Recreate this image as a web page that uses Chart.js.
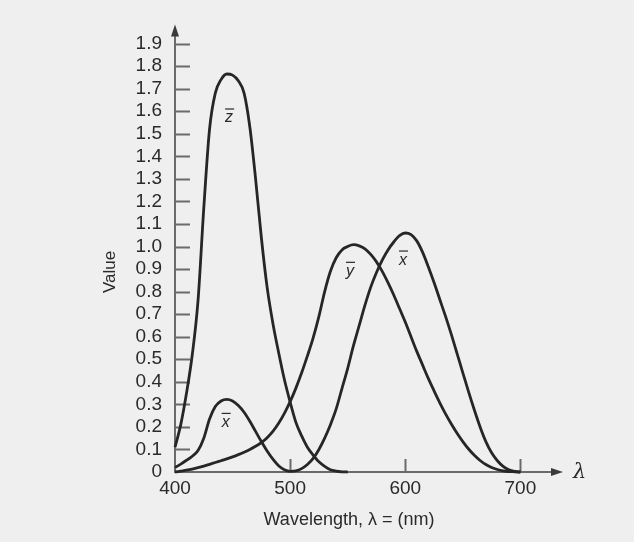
<!DOCTYPE html>
<html>
<head>
<meta charset="utf-8">
<script src="https://cdn.jsdelivr.net/npm/chart.js@4/dist/chart.umd.min.js"></script>
<style>
  html, body { margin: 0; padding: 0; background: #efefef; }
  canvas { display: block; }
</style>
</head>
<body>
<canvas id="c" width="634" height="542"></canvas>
<script>
// Wavelengths (nm)
const wavelengths = [400,405,410,415,420,425,430,435,440,445,450,455,460,465,470,475,480,485,490,495,
  500,505,510,515,520,525,530,535,540,545,550,555,560,565,570,575,580,585,590,595,
  600,605,610,615,620,625,630,635,640,645,650,655,660,665,670,675,680,685,690,695,700];

// x-bar colour matching function
const xBar = [0.02,0.035,0.052,0.07,0.095,0.15,0.235,0.29,0.315,0.322,0.315,0.295,0.265,0.225,0.18,0.135,0.093,0.057,0.028,0.01,
  0.003,0.005,0.015,0.033,0.06,0.10,0.15,0.21,0.28,0.37,0.46,0.56,0.65,0.74,0.82,0.885,0.94,0.985,1.02,1.048,
  1.06,1.053,1.025,0.975,0.91,0.84,0.765,0.69,0.61,0.525,0.44,0.355,0.275,0.20,0.135,0.085,0.05,0.025,0.01,0.003,0];

// y-bar colour matching function
const yBar = [0,0.004,0.008,0.013,0.019,0.026,0.034,0.042,0.05,0.058,0.067,0.077,0.088,0.10,0.114,0.13,0.152,0.18,0.216,0.26,
  0.312,0.372,0.44,0.515,0.595,0.69,0.80,0.89,0.95,0.985,1.0,1.008,1.003,0.99,0.965,0.932,0.89,0.84,0.785,0.725,
  0.665,0.60,0.535,0.475,0.415,0.36,0.307,0.258,0.213,0.172,0.135,0.102,0.074,0.051,0.033,0.02,0.011,0.005,0.002,0.001,0];

// z-bar colour matching function (drawn up to 550 nm)
const zBar = [0.11,0.21,0.35,0.52,0.76,1.17,1.52,1.68,1.74,1.765,1.76,1.735,1.68,1.53,1.30,1.04,0.82,0.66,0.53,0.41,
  0.31,0.22,0.16,0.11,0.075,0.045,0.025,0.01,0.004,0.001,0,null,null,null,null,null,null,null,null,null,
  null,null,null,null,null,null,null,null,null,null,null,null,null,null,null,null,null,null,null,null,null];

// Axis ticks
const xTickValues = [400,500,600,700];
const yTickValues = [0,0.1,0.2,0.3,0.4,0.5,0.6,0.7,0.8,0.9,1.0,1.1,1.2,1.3,1.4,1.5,1.6,1.7,1.8,1.9];

// Curve label anchors (wavelength, value)
const curveLabels = [
  { text: 'z', x: 447, y: 1.55 },
  { text: 'x', x: 444, y: 0.20 },
  { text: 'y', x: 552, y: 0.87 },
  { text: 'x', x: 598, y: 0.92 }
];

const LINE = '#262626';
const AXIS = '#6a6a6a';
const TEXT = '#2a2a2a';
const FONT = '"Liberation Sans", Arial, sans-serif';

function series(arr) {
  return wavelengths.map((w, i) => ({ x: w, y: arr[i] }));
}

const decor = {
  id: 'decor',
  beforeDraw(chart) {
    const ctx = chart.ctx;
    ctx.save();
    ctx.fillStyle = '#efefef';
    ctx.fillRect(0, 0, chart.width, chart.height);
    ctx.restore();
  },
  beforeDatasetsDraw(chart) {
    const ctx = chart.ctx;
    const { left, right, top, bottom } = chart.chartArea;
    const xs = chart.scales.x, ys = chart.scales.y;
    ctx.save();
    ctx.strokeStyle = AXIS;
    ctx.fillStyle = '#3a3a3a';
    ctx.lineWidth = 2;
    // y axis
    ctx.beginPath();
    ctx.moveTo(left, bottom + 1);
    ctx.lineTo(left, top + 8);
    ctx.stroke();
    ctx.beginPath();
    ctx.moveTo(left, top);
    ctx.lineTo(left - 4, top + 12);
    ctx.lineTo(left + 4, top + 12);
    ctx.closePath();
    ctx.fill();
    // x axis
    ctx.beginPath();
    ctx.moveTo(left - 1, bottom);
    ctx.lineTo(right - 8, bottom);
    ctx.stroke();
    ctx.beginPath();
    ctx.moveTo(right, bottom);
    ctx.lineTo(right - 12, bottom - 4);
    ctx.lineTo(right - 12, bottom + 4);
    ctx.closePath();
    ctx.fill();
    // y ticks (inside)
    ys.ticks.forEach(t => {
      if (t.value === 0) return;
      const py = Math.round(ys.getPixelForValue(t.value)) + 0.5;
      ctx.beginPath();
      ctx.moveTo(left, py);
      ctx.lineTo(left + 15, py);
      ctx.stroke();
    });
    // x ticks (inside)
    xs.ticks.forEach(t => {
      if (t.value === xs.min) return;
      const px = Math.round(xs.getPixelForValue(t.value)) + 0.5;
      ctx.beginPath();
      ctx.moveTo(px, bottom);
      ctx.lineTo(px, bottom - 13);
      ctx.stroke();
    });
    ctx.restore();
  },
  afterDatasetsDraw(chart) {
    const ctx = chart.ctx;
    const { right, bottom } = chart.chartArea;
    const xs = chart.scales.x, ys = chart.scales.y;
    ctx.save();
    ctx.fillStyle = TEXT;
    ctx.strokeStyle = TEXT;
    // curve labels with overbar
    ctx.font = 'italic 16px ' + FONT;
    ctx.textAlign = 'center';
    ctx.textBaseline = 'alphabetic';
    ctx.lineWidth = 1.2;
    curveLabels.forEach(l => {
      const px = xs.getPixelForValue(l.x);
      const py = ys.getPixelForValue(l.y);
      ctx.fillText(l.text, px, py);
      ctx.beginPath();
      ctx.moveTo(px - 4, py - 13.5);
      ctx.lineTo(px + 5, py - 13.5);
      ctx.stroke();
    });
    // lambda at axis end
    ctx.font = 'italic 21px "DejaVu Serif", serif';
    ctx.textAlign = 'left';
    ctx.textBaseline = 'middle';
    ctx.fillText('λ', right + 10, bottom + 1);
    // axis titles
    ctx.font = '18px ' + FONT;
    ctx.textAlign = 'center';
    ctx.textBaseline = 'middle';
    ctx.fillText('Wavelength, λ = (nm)', 349, 520);
    ctx.save();
    ctx.translate(110, 272);
    ctx.rotate(-Math.PI / 2);
    ctx.font = '17px ' + FONT;
    ctx.fillText('Value', 0, 0);
    ctx.restore();
    ctx.restore();
  }
};

const ds = (label, arr) => ({
  label,
  data: series(arr),
  borderColor: LINE,
  borderWidth: 2.8,
  pointRadius: 0,
  fill: false,
  cubicInterpolationMode: 'monotone',
  spanGaps: false,
  clip: 6
});

new Chart(document.getElementById('c'), {
  type: 'line',
  data: {
    datasets: [
      ds('x̄', xBar),
      ds('ȳ', yBar),
      ds('z̄', zBar)
    ]
  },
  options: {
    responsive: false,
    animation: false,
    devicePixelRatio: 1,
    layout: { padding: { top: 20, right: 71, left: 0, bottom: 0 } },
    plugins: { legend: { display: false }, tooltip: { enabled: false } },
    scales: {
      x: {
        type: 'linear',
        min: 400,
        max: 737,
        afterBuildTicks: s => { s.ticks = xTickValues.map(v => ({ value: v })); },
        afterFit: s => { s.height = 70; },
        grid: { display: false, drawTicks: false },
        border: { display: false },
        ticks: { color: TEXT, font: { family: FONT, size: 19 }, padding: 5, maxRotation: 0, autoSkip: false },
        title: { display: false }
      },
      y: {
        type: 'linear',
        min: 0,
        max: 1.985,
        afterBuildTicks: s => { s.ticks = yTickValues.map(v => ({ value: v })); },
        afterFit: s => { s.width = 175; },
        grid: { display: false, drawTicks: false },
        border: { display: false },
        ticks: {
          color: TEXT,
          font: { family: FONT, size: 19 },
          padding: 13,
          autoSkip: false,
          callback: v => (v === 0 ? '0' : Number(v).toFixed(1))
        },
        title: { display: false }
      }
    }
  },
  plugins: [decor]
});
</script>
</body>
</html>
